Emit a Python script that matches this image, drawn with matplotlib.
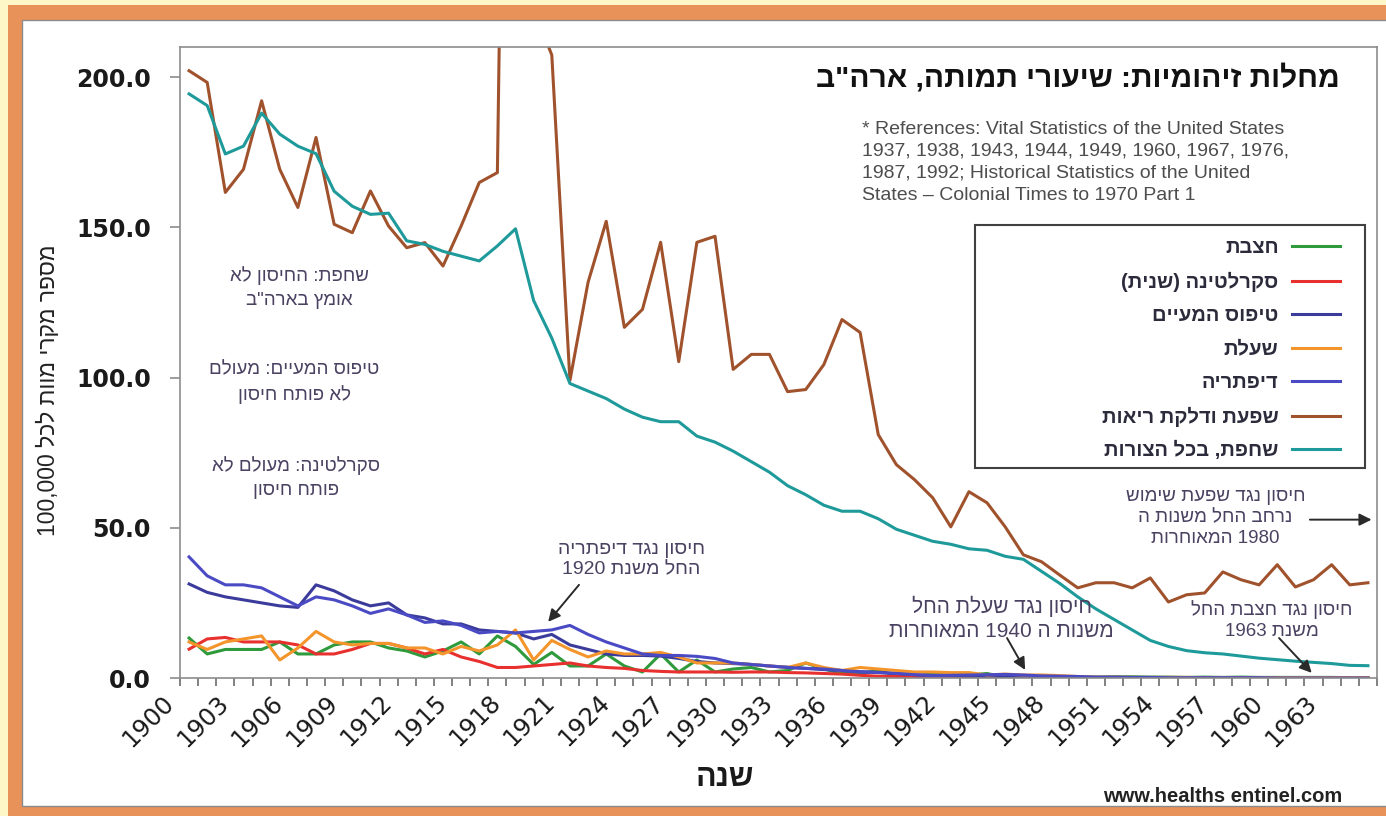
import re
import numpy as np
import matplotlib
matplotlib.use('Agg')
import matplotlib.pyplot as plt
import matplotlib.transforms as mtransforms
from matplotlib.patches import Rectangle

plt.rcParams['font.family'] = ['Liberation Sans', 'DejaVu Sans']

# --- data (deaths per 100,000, USA) ---
years = np.arange(1900, 1966)

tuberculosis = [194.4, 190.5, 174.4, 177.0, 188.0, 181.0, 177.0, 174.5, 162.0, 157.0,
                154.3, 154.7, 145.5, 144.3, 142.0, 140.4, 138.8, 143.8, 149.5, 125.6,
                113.1, 98.0, 95.5, 93.0, 89.5, 86.8, 85.3, 85.3, 80.5, 78.5,
                75.5, 72.0, 68.5, 64.0, 61.0, 57.5, 55.5, 55.5, 53.0, 49.5,
                47.5, 45.5, 44.5, 43.0, 42.5, 40.5, 39.5, 35.5, 31.5, 27.0,
                23.0, 19.5, 16.0, 12.5, 10.5, 9.1, 8.4, 8.0, 7.3, 6.6,
                6.1, 5.6, 5.2, 4.8, 4.2, 4.1]

flu_pneumonia = [202.1, 198.2, 161.6, 169.3, 192.1, 169.3, 156.6, 179.9, 151.0, 148.2,
                 162.1, 150.4, 143.2, 144.9, 137.1, 150.4, 164.9, 168.2, 588.5, 223.0,
                 207.3, 99.0, 131.7, 152.0, 116.7, 122.7, 145.0, 105.3, 145.0, 147.0,
                 102.7, 107.7, 107.7, 95.3, 96.0, 104.3, 119.3, 115.0, 81.0, 71.0,
                 66.0, 60.0, 50.3, 62.0, 58.3, 50.3, 41.0, 38.7, 34.3, 30.0,
                 31.7, 31.7, 30.0, 33.3, 25.3, 27.7, 28.3, 35.3, 32.7, 31.0,
                 37.7, 30.3, 32.7, 37.7, 31.0, 31.7]

diphtheria = [40.3, 34.0, 31.0, 31.0, 30.0, 27.0, 24.0, 27.0, 26.0, 24.0,
              21.5, 23.0, 21.0, 18.5, 19.0, 17.5, 15.0, 15.5, 15.0, 15.5,
              16.0, 17.5, 14.5, 12.0, 10.0, 8.0, 7.5, 7.5, 7.2, 6.5,
              5.0, 4.5, 4.0, 3.5, 3.2, 3.0, 2.5, 2.0, 1.8, 1.5,
              1.1, 0.8, 0.9, 1.0, 1.1, 1.2, 1.0, 0.7, 0.6, 0.5,
              0.3, 0.3, 0.2, 0.2, 0.1, 0.1, 0.1, 0.1, 0.1, 0.1,
              0.0, 0.0, 0.0, 0.0, 0.0, 0.0]

typhoid = [31.3, 28.5, 27.0, 26.0, 25.0, 24.0, 23.5, 31.0, 29.0, 26.0,
           24.0, 25.0, 21.0, 20.0, 18.0, 18.0, 16.0, 15.5, 15.0, 13.0,
           14.5, 11.0, 9.5, 8.0, 7.5, 7.5, 7.3, 6.5, 5.5, 5.0,
           4.8, 4.5, 4.0, 3.6, 3.2, 2.8, 2.5, 2.1, 1.9, 1.5,
           1.1, 0.9, 0.8, 0.7, 0.5, 0.4, 0.3, 0.2, 0.2, 0.1,
           0.1, 0.1, 0.1, 0.1, 0.1, 0.0, 0.0, 0.0, 0.0, 0.0,
           0.0, 0.0, 0.0, 0.0, 0.0, 0.0]

scarlet_fever = [9.6, 13.0, 13.5, 12.0, 12.0, 12.0, 11.0, 8.0, 8.0, 9.5,
                 11.5, 11.5, 10.0, 8.0, 9.5, 7.0, 5.5, 3.5, 3.5, 4.0,
                 4.5, 5.0, 4.0, 3.5, 3.2, 2.5, 2.2, 2.0, 2.0, 2.0,
                 1.9, 2.0, 2.0, 1.8, 1.7, 1.5, 1.3, 0.9, 0.6, 0.5,
                 0.5, 0.4, 0.3, 0.3, 0.2, 0.1, 0.1, 0.1, 0.1, 0.1,
                 0.1, 0.0, 0.0, 0.0, 0.0, 0.0, 0.0, 0.0, 0.0, 0.0,
                 0.0, 0.0, 0.0, 0.0, 0.0, 0.0]

measles = [13.3, 8.0, 9.5, 9.5, 9.5, 12.0, 8.0, 8.0, 11.0, 12.0,
           12.0, 10.0, 9.0, 7.0, 9.0, 12.0, 8.0, 14.0, 10.5, 4.5,
           8.5, 4.0, 4.0, 8.0, 4.0, 2.0, 8.0, 2.0, 6.0, 2.0,
           3.0, 3.5, 2.0, 2.5, 5.0, 3.0, 1.5, 1.5, 2.5, 0.8,
           0.5, 1.5, 0.8, 1.0, 1.5, 0.2, 0.8, 0.5, 0.5, 0.4,
           0.3, 0.4, 0.4, 0.3, 0.3, 0.2, 0.3, 0.2, 0.3, 0.2,
           0.2, 0.2, 0.2, 0.2, 0.1, 0.1]

whooping_cough = [12.0, 9.5, 12.0, 13.0, 14.0, 6.0, 10.0, 15.5, 12.0, 11.0,
                  11.5, 11.5, 10.0, 10.0, 8.0, 10.5, 9.0, 11.0, 16.0, 6.0,
                  12.5, 9.5, 7.0, 9.0, 8.0, 8.0, 8.5, 7.0, 5.0, 5.0,
                  5.0, 4.5, 4.0, 3.5, 5.0, 3.5, 2.5, 3.5, 3.0, 2.5,
                  2.0, 2.0, 1.8, 1.8, 1.0, 1.3, 1.0, 1.0, 0.8, 0.5,
                  0.3, 0.3, 0.2, 0.2, 0.2, 0.2, 0.1, 0.1, 0.1, 0.1,
                  0.1, 0.1, 0.1, 0.1, 0.1, 0.1]

labels = ['חצבת', 'סקרלטינה (שנית)', 'טיפוס המעיים', 'שעלת', 'דיפתריה',
          'שפעת ודלקת ריאות', 'שחפת, בכל הצורות']
colors = ['#2f9a3c', '#e8312f', '#3b3b9c', '#f4952c', '#4a4ac4', '#a0522d', '#1f9a9a']
tick_years = list(range(1900, 1964, 3))


def vis(s):
    """logical -> visual order for right-to-left Hebrew text"""
    out = []
    for line in s.split('\n'):
        r = line[::-1].translate(str.maketrans('()', ')('))
        r = re.sub(r'[0-9A-Za-z][0-9A-Za-z,.]*[0-9A-Za-z]|[0-9A-Za-z]',
                   lambda m: m.group(0)[::-1], r)
        out.append(r)
    return '\n'.join(out)


W, H = 1386, 816
fig = plt.figure(figsize=(W / 100, H / 100), dpi=100, facecolor='#fdf6c6')

# frame: orange border and white panel
fig.patches.append(Rectangle((8 / W, 0), 1, 1 - 5 / H, transform=fig.transFigure,
                             facecolor='#e8925a', edgecolor='none', zorder=-3))
fig.patches.append(Rectangle((22 / W, 1 - 806 / H), 1, (806 - 20) / H,
                             transform=fig.transFigure, facecolor='white',
                             edgecolor='#8a8a8a', lw=1.0, zorder=-2))

ax = fig.add_axes([180 / W, 1 - 678 / H, (1377 - 180) / W, (678 - 47) / H])
ax.set_facecolor('white')

series = [measles, scarlet_fever, typhoid, whooping_cough, diphtheria,
          flu_pneumonia, tuberculosis]
handles = []
for vals, lab, col in zip(series, labels, colors):
    h, = ax.plot(years, vals, color=col, lw=2.2, label=vis(lab))
    handles.append(h)

ax.set_xlim(1899.5, 1965.5)
ax.set_ylim(0, 210)
for sp in ax.spines.values():
    sp.set_color('#8c8c8c')
    sp.set_linewidth(1.2)

ax.set_yticks([0, 50, 100, 150, 200])
ax.set_yticklabels(['0.0', '50.0', '100.0', '150.0', '200.0'],
                   fontsize=17, fontweight='bold', family='DejaVu Sans', color='#1a1a1a')
ax.tick_params(axis='y', direction='out', length=7, width=1.2, color='#8c8c8c', pad=14)

ax.set_xticks(tick_years)
ax.set_xticklabels([str(y) for y in tick_years], rotation=45, ha='right', va='top',
                   rotation_mode='anchor', fontsize=17.5, family='DejaVu Sans', color='#1a1a1a')
ax.tick_params(axis='x', which='major', length=0, pad=14)
ax.set_xticks(np.arange(1899.5, 1966, 1), minor=True)
ax.tick_params(axis='x', which='minor', direction='out', length=6, width=1.2, color='#6c6c6c')
# nudge rotated year labels up-left (after tick_params, which resets transforms)
shift = mtransforms.ScaledTranslation(-0.27, 0.07, fig.dpi_scale_trans)
for tk in ax.xaxis.get_major_ticks():
    tk.label1.set_transform(tk.label1.get_transform() + shift)

fig.text(725 / W, 1 - 778 / H, vis('שנה'), ha='center', va='center',
         fontsize=22, fontweight='bold', color='#1a1a1a')
fig.text(48 / W, 1 - 390 / H, vis('מספר מקרי מוות לכל 100,000'), rotation=90,
         ha='center', va='center', fontsize=16.5, color='#222222')

# title and references
fig.text(1340 / W, 1 - 78 / H, vis('מחלות זיהומיות: שיעורי תמותה, ארה"ב'),
         ha='right', va='center', fontsize=21.5, fontweight='bold', color='#111111')
fig.text(862 / W, 1 - 121 / H,
         '* References: Vital Statistics of the United States\n'
         '1937, 1938, 1943, 1944, 1949, 1960, 1967, 1976,\n'
         '1987, 1992; Historical Statistics of the United\n'
         'States \u2013 Colonial Times to 1970 Part 1',
         ha='left', va='top', fontsize=14, color='#4d4d4d', linespacing=1.38)

# legend box (inside the axes so it sits above the lines)
ax.add_patch(Rectangle((975 / W, 1 - 468 / H), (1365 - 975) / W, (468 - 225) / H,
                       transform=fig.transFigure, facecolor='white',
                       edgecolor='#404040', lw=1.5, zorder=4, clip_on=False))
leg = ax.legend(handles=handles, loc='upper right', frameon=False, markerfirst=False,
                bbox_to_anchor=(1350 / W, 1 - 228 / H), bbox_transform=fig.transFigure,
                borderpad=0, handlelength=2.4, handletextpad=0.65,
                labelspacing=0.72, prop={'weight': 'bold', 'size': 14.5})
leg.set_zorder(6)
for t in leg.get_texts():
    t.set_color('#2b2b3b')

# annotations
note_col = '#4b4262'
left_notes = [('שחפת: החיסון לא\nאומץ בארה"ב', 1906.1, 130),
              ('טיפוס המעיים: מעולם\nלא פותח חיסון', 1905.8, 98.3),
              ('סקרלטינה: מעולם לא\nפותח חיסון', 1905.9, 66.7)]
for txt, xx, yy in left_notes:
    ax.text(xx, yy, vis(txt), ha='center', va='center', fontsize=13.5,
            color=note_col, linespacing=1.5)

arrow_kw = dict(arrowstyle='-|>', color='#2a2a2a', lw=1.4, mutation_scale=18,
                shrinkA=0, shrinkB=0)
notes = [('חיסון נגד דיפתריה\nהחל משנת 1920', (1924.4, 39.4), 14, (1921.5, 31.0), (1919.8, 18.7)),
         ('חיסון נגד שעלת החל\nמשנות ה 1940 המאוחרות', (1944.8, 19.8), 15, (1945.1, 13.3), (1946.1, 2.7)),
         ('חיסון נגד חצבת החל\nמשנת 1963', (1959.7, 19.3), 13.5, (1960.1, 13.3), (1961.9, 1.7)),
         ('חיסון נגד שפעת שימוש\nנרחב החל משנות ה\n1980 המאוחרות', (1956.6, 53.3), 13.5, None, None)]
for txt, pos, fs, a0, a1 in notes:
    ax.text(pos[0], pos[1], vis(txt), ha='center', va='center', fontsize=fs,
            color=note_col, linespacing=1.3)
    if a0 is not None:
        ax.annotate('', xy=a1, xytext=a0, arrowprops=arrow_kw)
ax.annotate('', xy=(1965.2, 52.7), xytext=(1961.8, 52.7), arrowprops=arrow_kw)

fig.text(1223 / W, 1 - 797 / H, 'www.healths entinel.com', ha='center', va='center',
         fontsize=14.5, fontweight='bold', color='#222222')

fig.savefig('out.png', dpi=100, facecolor=fig.get_facecolor())
